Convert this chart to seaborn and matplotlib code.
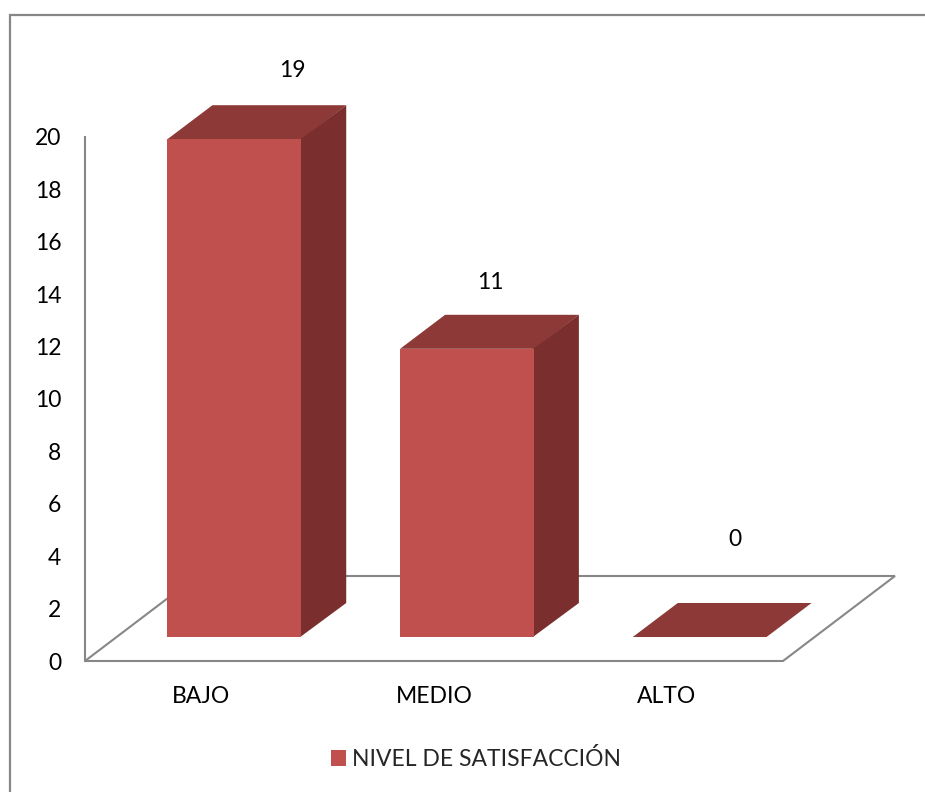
import matplotlib
matplotlib.use("Agg")
import matplotlib.pyplot as plt
from matplotlib.patches import Polygon, Rectangle, Patch
import seaborn as sns
import pandas as pd

# Survey result: satisfaction level counts
categories = ["BAJO", "MEDIO", "ALTO"]
values = [19, 11, 0]
series_name = "NIVEL DE SATISFACCIÓN"
y_ticks = [0, 2, 4, 6, 8, 10, 12, 14, 16, 18, 20]

df = pd.DataFrame({"nivel": categories, "n": values})

sns.set_theme(style="white")
plt.rcParams["font.family"] = ["Lato", "DejaVu Sans"]

FRONT = "#C0504D"
TOP = "#8C3937"
SIDE = "#7A2F2E"
GRID = "#878787"
FS = 16.5

fig = plt.figure(figsize=(9.25, 7.92), dpi=100)
W, H = 925, 792
# plot area: x from 85 to 783 px, y from 661 (0) to 137 (20)
ax = fig.add_axes([85 / W, (H - 661) / H, 698 / W, 524 / H])
ax.set_xlim(-0.5, 2.5)
ax.set_ylim(0, 20)

px_x = 698 / 3.0     # pixels per category unit
px_y = 524 / 20.0    # pixels per value unit

sns.barplot(data=df, x="nivel", y="n", color=FRONT, saturation=1,
            width=0.575, ax=ax, zorder=3)

# perspective offsets (in pixels) for the 3-D look
front_dx, front_dy = 33, 24      # bar front plane relative to floor front edge
depth_dx, depth_dy = 45, 34      # bar depth
floor_dx, floor_dy = 112, 85     # floor depth

ox, oy = front_dx / px_x, front_dy / px_y
bx, by = depth_dx / px_x, depth_dy / px_y
seam = 1.0 / px_x

# floor
fx, fy = floor_dx / px_x, floor_dy / px_y
floor = Polygon([(-0.5, 0), (2.5, 0), (2.5 + fx, fy), (-0.5 + fx, fy)],
                closed=True, facecolor="white", edgecolor=GRID, lw=1.5,
                zorder=1, clip_on=False)
ax.add_patch(floor)

label_offsets = [(58, 69), (23, 66), (35, 97)]

for rect, val, (lx, ly) in zip(list(ax.patches[:len(values)]), values, label_offsets):
    x0 = rect.get_x() + ox
    x1 = x0 + rect.get_width()
    h = rect.get_height()
    rect.set_x(x0)
    rect.set_y(oy)
    rect.set_edgecolor("none")
    rect.set_clip_on(False)
    rect.set_zorder(4)
    top_y = oy + h
    top = Polygon([(x0, top_y), (x1, top_y), (x1 + bx, top_y + by), (x0 + bx, top_y + by)],
                  closed=True, facecolor=TOP, edgecolor="none", zorder=3, clip_on=False)
    ax.add_patch(top)
    if h > 0:
        side = Polygon([(x1 - seam, oy), (x1 - seam, top_y), (x1 + bx, top_y + by),
                        (x1 + bx, oy + by)],
                       closed=True, facecolor=SIDE, edgecolor="none", zorder=3, clip_on=False)
        ax.add_patch(side)
    cx = (x0 + x1) / 2
    ax.text(cx + lx / px_x, top_y + ly / px_y, f"{val:g}", ha="center", va="center",
            fontsize=FS, color="black", clip_on=False)

# axes styling
for s in ["top", "right", "bottom"]:
    ax.spines[s].set_visible(False)
ax.spines["left"].set_color(GRID)
ax.spines["left"].set_linewidth(1.5)
ax.set_yticks(y_ticks)
ax.set_yticklabels([str(t) for t in y_ticks])
ax.tick_params(axis="y", length=0, pad=17, labelsize=FS, labelcolor="black")
ax.tick_params(axis="x", length=0, pad=18, labelsize=FS, labelcolor="black")
ax.set_xlabel("")
ax.set_ylabel("")
ax.patch.set_alpha(0)

# legend
fig.legend(handles=[Patch(facecolor=FRONT, edgecolor="none", label=series_name)],
           loc="center", bbox_to_anchor=(476 / W, 1 - 759 / H), frameon=False,
           fontsize=FS, handlelength=0.65, handleheight=0.65, handletextpad=0.3)

# chart border
fig.patches.append(Rectangle((10 / W, -0.05), 1.2, (H - 15) / H + 0.05,
                             transform=fig.transFigure, fill=False,
                             edgecolor=GRID, lw=1.6))

fig.savefig("out.png", dpi=100)
